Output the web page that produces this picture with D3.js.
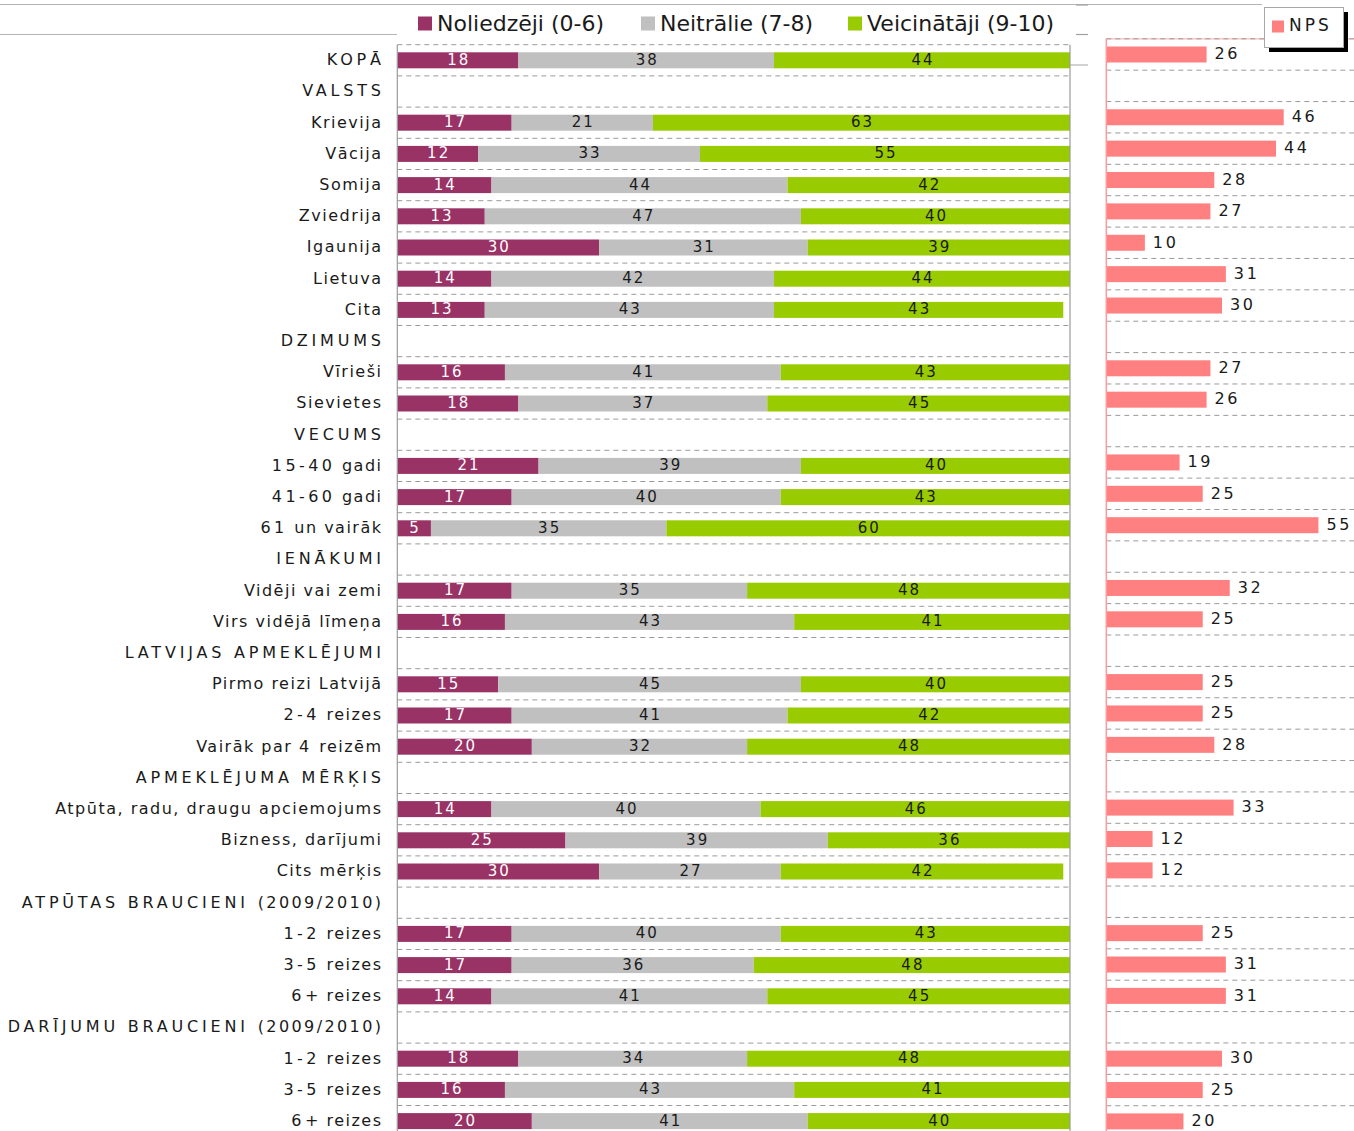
<!DOCTYPE html>
<html>
<head>
<meta charset="utf-8">
<script src="https://cdn.jsdelivr.net/npm/d3@7"></script>
<style>
  html, body { margin: 0; padding: 0; background: #fff; }
  svg { display: block; }
  text { font-family: "DejaVu Sans", Verdana, sans-serif; }
</style>
</head>
<body>
<svg id="chart" width="1354" height="1131"></svg>
<script>
// Row labels (group headings have no values)
const categories = [
  "KOPĀ", "VALSTS", "Krievija", "Vācija", "Somija", "Zviedrija", "Igaunija", "Lietuva", "Cita",
  "DZIMUMS", "Vīrieši", "Sievietes",
  "VECUMS", "15-40 gadi", "41-60 gadi", "61 un vairāk",
  "IENĀKUMI", "Vidēji vai zemi", "Virs vidējā līmeņa",
  "LATVIJAS APMEKLĒJUMI", "Pirmo reizi Latvijā", "2-4 reizes", "Vairāk par 4 reizēm",
  "APMEKLĒJUMA MĒRĶIS", "Atpūta, radu, draugu apciemojums", "Bizness, darījumi", "Cits mērķis",
  "ATPŪTAS BRAUCIENI (2009/2010)", "1-2 reizes", "3-5 reizes", "6+ reizes",
  "DARĪJUMU BRAUCIENI (2009/2010)", "1-2 reizes", "3-5 reizes", "6+ reizes"
];

// Shares of respondents, %
const detractors = [18, null, 17, 12, 14, 13, 30, 14, 13, null, 16, 18, null, 21, 17, 5, null, 17, 16,
  null, 15, 17, 20, null, 14, 25, 30, null, 17, 17, 14, null, 18, 16, 20];
const passives = [38, null, 21, 33, 44, 47, 31, 42, 43, null, 41, 37, null, 39, 40, 35, null, 35, 43,
  null, 45, 41, 32, null, 40, 39, 27, null, 40, 36, 41, null, 34, 43, 41];
const promoters = [44, null, 63, 55, 42, 40, 39, 44, 43, null, 43, 45, null, 40, 43, 60, null, 48, 41,
  null, 40, 42, 48, null, 46, 36, 42, null, 43, 48, 45, null, 48, 41, 40];
// Net Promoter Score
const nps = [26, null, 46, 44, 28, 27, 10, 31, 30, null, 27, 26, null, 19, 25, 55, null, 32, 25,
  null, 25, 25, 28, null, 33, 12, 12, null, 25, 31, 31, null, 30, 25, 20];

const seriesNames = ["Noliedzēji (0-6)", "Neitrālie (7-8)", "Veicinātāji (9-10)"];
const seriesColors = ["#993366", "#C0C0C0", "#99CC00"];
const seriesTextColors = ["#ffffff", "#1a1a1a", "#1a1a1a"];
const npsColor = "#FF8080";

const svg = d3.select("#chart");
const rows = d3.range(categories.length);
const isHeader = i => detractors[i] === null;
const isCaps = s => s === s.toUpperCase();

// ---------- decorative frame lines ----------
const frame = svg.append("g").attr("stroke", "#b4b4b4").attr("stroke-width", 1.2);
frame.append("line").attr("x1", 0).attr("x2", 1262).attr("y1", 4.5).attr("y2", 4.5);
frame.append("line").attr("x1", 0).attr("x2", 397).attr("y1", 34.5).attr("y2", 34.5);
frame.append("line").attr("x1", 1076).attr("x2", 1088).attr("y1", 5).attr("y2", 5).attr("stroke", "#a0a0a0");
frame.append("line").attr("x1", 1076).attr("x2", 1088).attr("y1", 34.5).attr("y2", 34.5).attr("stroke", "#a0a0a0");
frame.append("line").attr("x1", 1070).attr("x2", 1088).attr("y1", 65).attr("y2", 65);

// ---------- stacked 100% bars ----------
const x = d3.scaleLinear().domain([0, 100]).range([397.3, 1070]);
const barPad = 0.487;
const y = d3.scaleBand().domain(rows).range([44.7, 1136.7])
  .paddingInner(barPad).paddingOuter(barPad / 2);

svg.append("defs").append("clipPath").attr("id", "plotClip")
  .append("rect").attr("x", x(0)).attr("y", 40).attr("width", x(100) - x(0)).attr("height", 1100);

// dashed category gridlines
const gridL = svg.append("g").attr("stroke", "#9a9a9a").attr("stroke-dasharray", "5,4").attr("stroke-width", 1);
d3.range(categories.length + 1).forEach(k => {
  const yy = y.range()[0] + k * y.step();
  gridL.append("line").attr("x1", x(0)).attr("x2", x(100)).attr("y1", yy).attr("y2", yy);
});

const stackData = rows.filter(i => !isHeader(i)).map(i => ({
  row: i, v0: detractors[i], v1: passives[i], v2: promoters[i]
}));
const stack = d3.stack().keys(["v0", "v1", "v2"])(stackData);

const barsG = svg.append("g").attr("clip-path", "url(#plotClip)");
stack.forEach((layer, si) => {
  barsG.append("g").selectAll("rect").data(layer).join("rect")
    .attr("x", d => x(d[0]))
    .attr("y", d => y(d.data.row))
    .attr("width", d => Math.max(0, x(d[1]) - x(d[0])))
    .attr("height", y.bandwidth())
    .attr("fill", seriesColors[si]);
});

// plot area side borders
svg.append("line").attr("x1", x(0)).attr("x2", x(0)).attr("y1", 44.7).attr("y2", 1131)
  .attr("stroke", "#9a9a9a").attr("stroke-width", 1.2);
svg.append("line").attr("x1", x(100)).attr("x2", x(100)).attr("y1", 44.7).attr("y2", 1131)
  .attr("stroke", "#9a9a9a").attr("stroke-width", 1.2);

// value labels inside segments
const valLS = 2;
stack.forEach((layer, si) => {
  svg.append("g").selectAll("text").data(layer).join("text")
    .attr("x", d => (x(d[0]) + Math.min(x(d[1]), x(100))) / 2 + valLS / 2)
    .attr("y", d => y(d.data.row) + y.bandwidth() / 2)
    .attr("dy", "0.3em")
    .attr("text-anchor", "middle")
    .attr("font-size", 15)
    .attr("letter-spacing", valLS)
    .attr("fill", seriesTextColors[si])
    .text(d => d[1] - d[0]);
});

// category labels: letters are tracked out, capitals and numerals more widely
function spacingFor(ch, caps) {
  if (caps) return /[0-9()\/]/.test(ch) ? 2.4 : 3.8;
  return /[0-9\-]/.test(ch) ? 3.4 : 1.5;
}
function runsOf(label) {
  const caps = isCaps(label);
  const runs = [];
  for (const ch of label) {
    const ls = spacingFor(ch, caps);
    if (runs.length && runs[runs.length - 1].ls === ls) runs[runs.length - 1].t += ch;
    else runs.push({ t: ch, ls });
  }
  return runs;
}
const labelRight = 381;
const labels = svg.append("g").selectAll("text").data(rows).join("text")
  .attr("x", i => { const r = runsOf(categories[i]); return labelRight + r[r.length - 1].ls; })
  .attr("y", i => y(i) + y.bandwidth() / 2)
  .attr("dy", "0.3em")
  .attr("text-anchor", "end")
  .attr("font-size", 16)
  .attr("fill", "#1a1a1a");
labels.selectAll("tspan").data(i => runsOf(categories[i])).join("tspan")
  .attr("letter-spacing", r => r.ls)
  .text(r => r.t);

// legend for the stacked bars
const legendX = [418, 641, 848];
const legend = svg.append("g");
seriesNames.forEach((name, si) => {
  legend.append("rect").attr("x", legendX[si]).attr("y", 16.5).attr("width", 14).attr("height", 14)
    .attr("fill", seriesColors[si]);
  legend.append("text").attr("x", legendX[si] + 19).attr("y", 30.5)
    .attr("font-size", 22).attr("fill", "#1a1a1a").text(name);
});

// ---------- NPS panel ----------
const nx = d3.scaleLinear().domain([0, 70]).range([1106.3, 1106.3 + 270]);
const npsPad = 0.49;
const ny = d3.scaleBand().domain(rows).range([38.8, 1137.1])
  .paddingInner(npsPad).paddingOuter(npsPad / 2);

const gridR = svg.append("g");
gridR.append("line").attr("x1", nx(0)).attr("x2", 1354).attr("y1", 38.8).attr("y2", 38.8)
  .attr("stroke", "#ffb8b8").attr("stroke-width", 1.2);
d3.range(categories.length + 1).forEach(k => {
  const yy = ny.range()[0] + k * ny.step();
  gridR.append("line").attr("x1", nx(0)).attr("x2", 1354).attr("y1", yy).attr("y2", yy)
    .attr("stroke", "#9a9a9a").attr("stroke-dasharray", "5,4").attr("stroke-width", 1);
});

const npsRows = rows.filter(i => nps[i] !== null);
svg.append("g").selectAll("rect").data(npsRows).join("rect")
  .attr("x", nx(0))
  .attr("y", i => ny(i))
  .attr("width", i => nx(nps[i]) - nx(0))
  .attr("height", ny.bandwidth())
  .attr("fill", npsColor);

svg.append("line").attr("x1", nx(0)).attr("x2", nx(0)).attr("y1", 38.8).attr("y2", 1131)
  .attr("stroke", "#ff9a9a").attr("stroke-width", 1.5);

svg.append("g").selectAll("text").data(npsRows).join("text")
  .attr("x", i => nx(nps[i]) + 8)
  .attr("y", i => ny(i) + ny.bandwidth() / 2)
  .attr("dy", "0.3em")
  .attr("font-size", 16)
  .attr("letter-spacing", 2.6)
  .attr("fill", "#1a1a1a")
  .text(i => nps[i]);

// NPS legend box with drop shadow
const nl = svg.append("g");
nl.append("rect").attr("x", 1269).attr("y", 12).attr("width", 79).attr("height", 40).attr("fill", "#000");
nl.append("rect").attr("x", 1264.5).attr("y", 7.5).attr("width", 79).attr("height", 40)
  .attr("fill", "#fff").attr("stroke", "#a8a8a8").attr("stroke-width", 1);
nl.append("rect").attr("x", 1272).attr("y", 20.5).attr("width", 12).attr("height", 12).attr("fill", npsColor);
nl.append("text").attr("x", 1289).attr("y", 31).attr("font-size", 17).attr("letter-spacing", 3)
  .attr("fill", "#1a1a1a").text("NPS");
</script>
</body>
</html>
